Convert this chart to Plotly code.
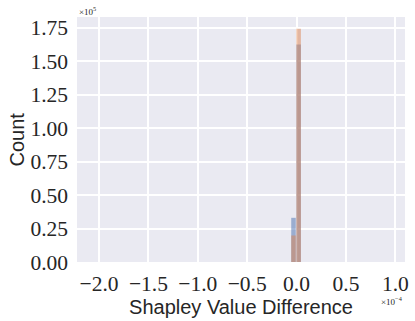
import plotly.graph_objects as go

# Histogram bins (x in units of 1e-4), counts in units of 1e5
bin_centers_a = [-0.031, 0.021]
counts_a = [0.33, 1.625]          # blue series
bin_centers_b = [-0.031, 0.021]
counts_b = [0.198, 1.743]         # orange series
bin_width = 0.046

x_ticks = [-2.0, -1.5, -1.0, -0.5, 0.0, 0.5, 1.0]
x_tick_text = ["−2.0", "−1.5", "−1.0", "−0.5", "0.0", "0.5", "1.0"]
y_ticks = [0.0, 0.25, 0.5, 0.75, 1.0, 1.25, 1.5, 1.75]
y_tick_text = ["0.00", "0.25", "0.50", "0.75", "1.00", "1.25", "1.50", "1.75"]

fig = go.Figure()
fig.add_trace(go.Bar(x=bin_centers_a, y=counts_a, width=bin_width,
                     marker=dict(color="#4C72B0", line=dict(width=0)), opacity=0.5))
fig.add_trace(go.Bar(x=bin_centers_b, y=counts_b, width=bin_width,
                     marker=dict(color="#DD8452", line=dict(width=0)), opacity=0.5))

tick_font = dict(family="Liberation Serif", size=21.5, color="#262626")
title_font = dict(family="Liberation Sans", size=20, color="#262626")
fig.update_layout(
    width=415, height=321,
    margin=dict(l=77, r=10, t=17, b=59),
    paper_bgcolor="white", plot_bgcolor="#EAEAF2",
    barmode="overlay", showlegend=False,
    xaxis=dict(range=[-2.223, 1.098], tickvals=x_ticks, ticktext=x_tick_text,
               tickfont=tick_font, gridcolor="white", gridwidth=1.5,
               zeroline=False, showline=False, ticks="", ticklabelstandoff=6,
               automargin=False,
               title=dict(text="Shapley Value Difference", standoff=2, font=title_font)),
    yaxis=dict(range=[0, 1.83], tickvals=y_ticks, ticktext=y_tick_text,
               tickfont=tick_font, gridcolor="white", gridwidth=1.5,
               zeroline=False, showline=False, ticks="", ticklabelstandoff=8,
               automargin=False),
    annotations=[
        dict(text="Count", xref="paper", yref="paper", x=0, y=0.5, textangle=-90,
             xanchor="center", yanchor="middle", showarrow=False, xshift=-61,
             font=title_font),
        dict(text="×10<sup>5</sup>", xref="paper", yref="paper", x=0, y=1.0,
             xanchor="left", yanchor="bottom", showarrow=False, yshift=-2,
             font=dict(family="Liberation Serif", size=9, color="#262626")),
        dict(text="×10<sup>−4</sup>", xref="paper", yref="paper", x=1.0, y=0,
             xanchor="right", yanchor="top", showarrow=False, yshift=-31,
             font=dict(family="Liberation Serif", size=9, color="#262626")),
    ],
)

fig.write_html("out.html", config={"displayModeBar": False},
               post_script="document.body.style.margin='0';document.body.style.overflow='hidden';")
